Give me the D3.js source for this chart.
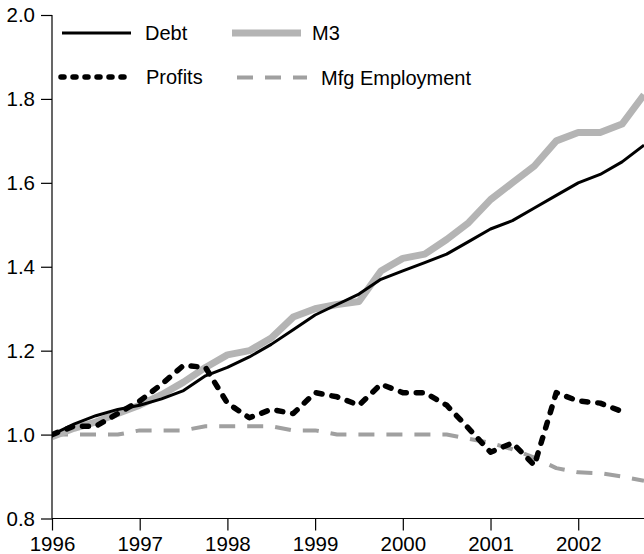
<!DOCTYPE html>
<html><head><meta charset="utf-8">
<script src="https://cdn.jsdelivr.net/npm/d3@7"></script>
<style>body{margin:0;background:#fff}svg{display:block}text{font-family:"Liberation Sans",Arial,sans-serif}</style>
</head><body>
<svg id="c" width="644" height="554"></svg>
<script>
const quarters = [1996.00,1996.25,1996.50,1996.75,1997.00,1997.25,1997.50,1997.75,
  1998.00,1998.25,1998.50,1998.75,1999.00,1999.25,1999.50,1999.75,
  2000.00,2000.25,2000.50,2000.75,2001.00,2001.25,2001.50,2001.75,
  2002.00,2002.25,2002.50,2002.75];
const debt = [1.00,1.025,1.045,1.06,1.07,1.085,1.105,1.14,1.16,1.185,1.215,1.25,1.285,1.31,1.335,1.37,
  1.39,1.41,1.43,1.46,1.49,1.51,1.54,1.57,1.60,1.62,1.65,1.69];
const m3 = [0.995,1.015,1.03,1.05,1.07,1.095,1.125,1.16,1.19,1.20,1.23,1.28,1.30,1.31,1.317,1.39,
  1.42,1.43,1.465,1.505,1.56,1.60,1.64,1.70,1.72,1.72,1.74,1.81];
const profits = [1.00,1.02,1.02,1.05,1.08,1.12,1.165,1.16,1.075,1.04,1.06,1.05,1.10,1.09,1.07,1.12,
  1.10,1.10,1.07,1.015,0.958,0.98,0.927,1.10,1.08,1.075,1.055,null];
const mfg = [1.00,1.00,1.00,1.00,1.01,1.01,1.01,1.02,1.02,1.02,1.02,1.01,1.01,1.00,1.00,1.00,
  1.00,1.00,1.00,0.99,0.98,0.965,0.945,0.92,0.91,0.908,0.90,0.89];
const xTicks = [1996,1997,1998,1999,2000,2001,2002];
const yTicks = [0.8,1.0,1.2,1.4,1.6,1.8,2.0];
const seriesNames = ["Debt","M3","Profits","Mfg Employment"];

const svg = d3.select("#c");
const L=52, R=644, T=15, B=518.5;
const x = d3.scaleLinear().domain([1996,2002.75]).range([L,R]);
const y = d3.scaleLinear().domain([0.8,2.0]).range([B,T]);

svg.append("defs").append("clipPath").attr("id","clip")
  .append("rect").attr("x",L).attr("y",0).attr("width",R-L+2).attr("height",B);

const styles = {
  "Debt":{stroke:"#000",w:3,dash:null,cap:"butt",data:debt},
  "M3":{stroke:"#b4b4b4",w:7,dash:null,cap:"butt",data:m3},
  "Profits":{stroke:"#000",w:5.5,dash:"6,10",cap:"round",data:profits},
  "Mfg Employment":{stroke:"#a0a0a0",w:4,dash:"16,12",cap:"butt",data:mfg}
};
const drawOrder = ["Mfg Employment","M3","Debt","Profits"];
const g = svg.append("g").attr("clip-path","url(#clip)");
drawOrder.forEach(n=>{
  const s = styles[n];
  const line = d3.line().defined((d,i)=>s.data[i]!=null).x((d,i)=>x(quarters[i])).y((d,i)=>y(s.data[i]));
  g.append("path").datum(quarters).attr("d",line).attr("fill","none")
    .attr("stroke",s.stroke).attr("stroke-width",s.w).attr("stroke-linejoin","round")
    .attr("stroke-linecap",s.cap).attr("stroke-dasharray",s.dash);
});

// axes
const yAxis = d3.axisLeft(y).tickValues(yTicks).tickFormat(d3.format(".1f")).tickSize(11).tickPadding(6);
const ya = svg.append("g").attr("transform",`translate(${L},0)`).call(yAxis);
const xAxis = d3.axisBottom(x).tickValues(xTicks).tickFormat(d3.format("d")).tickSize(12).tickPadding(6);
const xa = svg.append("g").attr("transform",`translate(0,${B})`).call(xAxis);
[ya,xa].forEach(a=>{
  a.select(".domain").remove();
  a.selectAll("line").attr("stroke","#000").attr("stroke-width",1.2);
  a.selectAll("text").attr("font-size",20.5).attr("fill","#000").attr("font-family","Liberation Sans, Arial, sans-serif");
});
svg.append("line").attr("x1",L).attr("x2",L).attr("y1",T).attr("y2",B).attr("stroke","#000").attr("stroke-width",1.2);
svg.append("line").attr("x1",L).attr("x2",R).attr("y1",B).attr("y2",B).attr("stroke","#000").attr("stroke-width",1.2);

// legend
const legendPos = {
  "Debt":{x1:62,x2:131,y:33,tx:145,dash:null},
  "M3":{x1:232,x2:301,y:33,tx:312,dash:null},
  "Profits":{x1:61,x2:131,y:77,tx:146,dash:"3,9"},
  "Mfg Employment":{x1:237,x2:307,y:77.5,tx:321,dash:"16,12"}
};
seriesNames.forEach(n=>{
  const s=styles[n], p=legendPos[n];
  svg.append("line").attr("x1",p.x1).attr("x2",p.x2).attr("y1",p.y).attr("y2",p.y)
    .attr("stroke",s.stroke).attr("stroke-width",s.w).attr("stroke-linecap",s.cap).attr("stroke-dasharray",p.dash);
  svg.append("text").attr("x",p.tx).attr("y",p.y+7).attr("font-size",20).attr("fill","#000").text(n);
});
</script>
</body></html>
